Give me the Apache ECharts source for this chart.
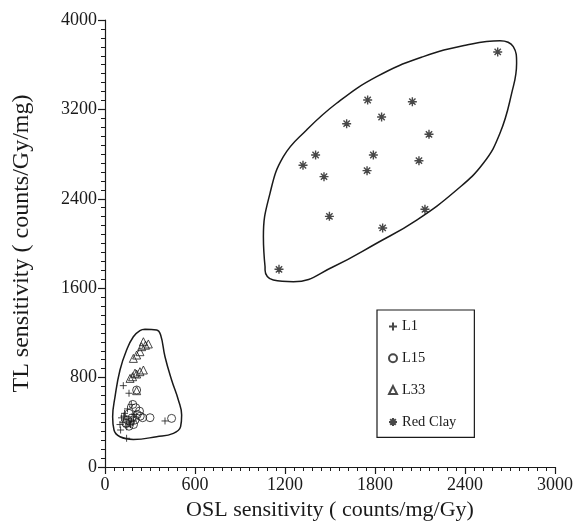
<!DOCTYPE html>
<html><head><meta charset="utf-8">
<script src="https://cdn.jsdelivr.net/npm/echarts@6/dist/echarts.min.js"></script>
<style>html,body{margin:0;padding:0;background:#fff}#c{width:579px;height:532px}</style>
</head><body><div id="c"></div>
<script>
const xTicks = [0, 600, 1200, 1800, 2400, 3000];
const yTicks = [0, 800, 1600, 2400, 3200, 4000];
const seriesNames = ['L1', 'L15', 'L33', 'Red Clay'];

const L1 = [[122,728],[160,660],[175,560],[150,520],[130,480],[110,440],[140,430],[160,410],[120,400],[100,380],[170,380],[145,360],[104,331],[144,257],[400,412],[195,470],[190,420],[125,455]];
const L15 = [[211,689],[185,560],[205,530],[230,500],[160,480],[215,470],[251,441],[300,441],[444,435],[180,440],[150,420],[200,420],[170,400],[140,390],[190,380],[160,365],[235,455]];
const L33 = [[256,1121],[289,1101],[244,1077],[233,1032],[211,1002],[189,972],[256,868],[233,853],[211,832],[184,808],[167,793],[211,683],[270,1090],[200,840]];
const RedClay = [[2618,3714],[1751,3284],[2049,3269],[1844,3132],[1611,3072],[2160,2977],[1404,2792],[1789,2792],[1320,2700],[2093,2741],[1747,2652],[1460,2598],[1496,2243],[2133,2306],[1851,2139],[1160,1769]];

const outlineLow = [[267,1232],[344,1226],[371,1181],[400,987],[444,779],[489,600],[511,465],[504,361],[456,301],[344,271],[189,247],[100,271],[60,331],[51,450],[67,629],[100,868],[144,1047],[189,1166],[233,1220],[267,1232]];
const outlineClay = [[1067,1792],[1056,2061],[1100,2449],[1189,2777],[1344,3016],[1544,3255],[1811,3493],[2122,3672],[2411,3776],[2633,3815],[2722,3761],[2744,3613],[2711,3344],[2633,2986],[2522,2718],[2344,2479],[2078,2210],[1811,2002],[1522,1792],[1256,1658],[1122,1673],[1067,1763],[1067,1792]];

const FONT = 'Liberation Serif';
const INK = '#1a1a1a';
const plusPath = 'path://M0 5L10 5M5 0L5 10';
const starPath = 'path://M0 5L10 5M5 0L5 10M1.5 1.5L8.5 8.5M8.5 1.5L1.5 8.5M4 4L6 6M6 4L4 6';
const hollow = {color: 'rgba(0,0,0,0)', borderColor: INK, borderWidth: 1};
const plain = v => String(v);

const chart = echarts.init(document.getElementById('c'), null, {renderer: 'canvas'});
chart.setOption({
  animation: false,
  backgroundColor: '#fff',
  grid: {left: 105, top: 20, right: 24, bottom: 65},
  xAxis: {
    type: 'value', min: xTicks[0], max: xTicks[xTicks.length-1], interval: 600,
    name: 'OSL sensitivity ( counts/mg/Gy)', nameLocation: 'middle', nameGap: 32,
    nameTextStyle: {fontFamily: FONT, fontSize: 22, color: INK},
    axisLine: {lineStyle: {color: INK, width: 1.2}},
    axisTick: {inside: false, length: 7, lineStyle: {color: INK, width: 1.2}},
    minorTick: {show: true, splitNumber: 10, length: 4, lineStyle: {color: INK, width: 1}},
    axisLabel: {fontFamily: FONT, fontSize: 18, color: INK, margin: 9, formatter: plain},
    splitLine: {show: false}
  },
  yAxis: {
    type: 'value', min: yTicks[0], max: yTicks[yTicks.length-1], interval: 800,
    name: 'TL sensitivity ( counts/Gy/mg)', nameLocation: 'middle', nameGap: 71, nameRotate: 90,
    nameTextStyle: {fontFamily: FONT, fontSize: 24, color: INK},
    axisLine: {lineStyle: {color: INK, width: 1.2}},
    axisTick: {inside: false, length: 7, lineStyle: {color: INK, width: 1.2}},
    minorTick: {show: true, splitNumber: 10, length: 4, lineStyle: {color: INK, width: 1}},
    axisLabel: {fontFamily: FONT, fontSize: 18, color: INK, margin: 8, formatter: plain},
    splitLine: {show: false}
  },
  legend: {
    data: seriesNames, orient: 'vertical', left: 377, top: 310,
    padding: [9, 18, 8, 11], itemGap: 16.8, itemWidth: 8, itemHeight: 8,
    borderColor: INK, borderWidth: 1.2,
    textStyle: {fontFamily: FONT, fontSize: 14.5, color: INK, lineHeight: 14}
  },
  series: [
    {type: 'line', data: outlineLow, smooth: 0.45, symbol: 'none', silent: true, lineStyle: {color: INK, width: 1.5}, z: 1},
    {type: 'line', data: outlineClay, smooth: 0.45, symbol: 'none', silent: true, lineStyle: {color: INK, width: 1.5}, z: 1},
    {name: 'L1', type: 'scatter', data: L1, symbol: plusPath, symbolSize: 7, itemStyle: hollow, z: 3},
    {name: 'L15', type: 'scatter', data: L15, symbol: 'circle', symbolSize: 8, itemStyle: hollow, z: 3},
    {name: 'L33', type: 'scatter', data: L33, symbol: 'triangle', symbolSize: 8, itemStyle: hollow, z: 3},
    {name: 'Red Clay', type: 'scatter', data: RedClay, symbol: starPath, symbolSize: 9, itemStyle: {color: 'rgba(0,0,0,0)', borderColor: INK, borderWidth: 1.4}, z: 3}
  ]
});
</script></body></html>
